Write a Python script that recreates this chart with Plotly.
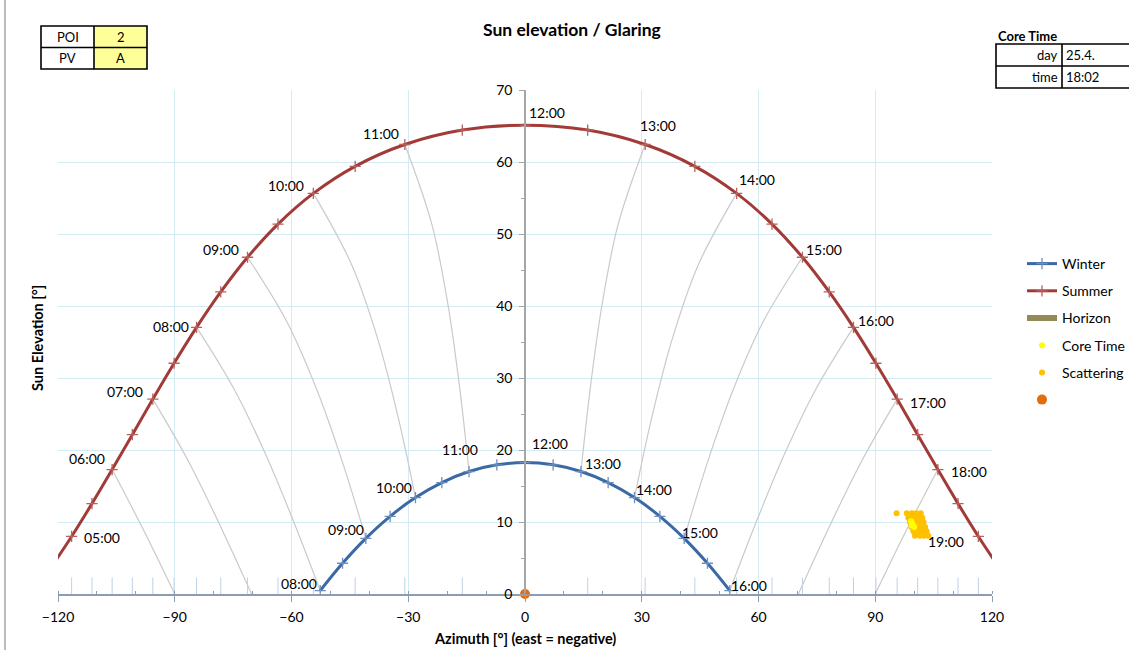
import plotly.graph_objects as go

# ---------------- DATA ----------------
summer_time = ["04:30", "05:00", "05:30", "06:00", "06:30", "07:00", "07:30", "08:00", "08:30",
               "09:00", "09:30", "10:00", "10:30", "11:00", "11:30", "12:00", "12:30", "13:00",
               "13:30", "14:00", "14:30", "15:00", "15:30", "16:00", "16:30", "17:00", "17:30",
               "18:00", "18:30", "19:00", "19:30"]
summer_az = [-121.86, -116.50, -111.27, -106.09, -100.90, -95.63, -90.17, -84.40, -78.18,
             -71.29, -63.47, -54.39, -43.64, -30.88, -16.11, 0.0, 16.11, 30.88,
             43.64, 54.39, 63.47, 71.29, 78.18, 84.40, 90.17, 95.63, 100.90,
             106.09, 111.27, 116.50, 121.86]
summer_el = [3.64, 7.99, 12.55, 17.28, 22.13, 27.07, 32.05, 37.03, 41.95,
             46.77, 51.38, 55.64, 59.40, 62.43, 64.44, 65.12, 64.44, 62.43,
             59.40, 55.64, 51.38, 46.77, 41.95, 37.03, 32.05, 27.07, 22.13,
             17.28, 12.55, 7.99, 3.64]

winter_time = ["08:00", "08:30", "09:00", "09:30", "10:00", "10:30", "11:00", "11:30", "12:00",
               "12:30", "13:00", "13:30", "14:00", "14:30", "15:00", "15:30", "16:00"]
winter_az = [-52.62, -46.88, -40.90, -34.65, -28.14, -21.37, -14.38, -7.23, 0.0,
             7.23, 14.38, 21.37, 28.14, 34.65, 40.90, 46.88, 52.62]
winter_el = [0.47, 4.27, 7.73, 10.79, 13.39, 15.48, 17.01, 17.94, 18.26,
             17.94, 17.01, 15.48, 13.39, 10.79, 7.73, 4.27, 0.47]

# hour lines (same clock time across the year, summer -> winter / horizon)
hourline_names = ["06:00", "07:00", "08:00", "09:00", "10:00", "11:00",
                  "13:00", "14:00", "15:00", "16:00", "17:00", "18:00"]
hourline_az = [
    [-106.09, -97.86, -90.0],
    [-95.63, -86.73, -78.69, -70.25],
    [-84.40, -74.80, -66.68, -59.44, -52.62],
    [-71.29, -61.13, -53.26, -46.72, -40.90],
    [-54.39, -44.51, -37.71, -32.51, -28.14],
    [-30.88, -23.93, -19.74, -16.76, -14.38],
    [30.88, 23.93, 19.74, 16.76, 14.38],
    [54.39, 44.51, 37.71, 32.51, 28.14],
    [71.29, 61.13, 53.26, 46.72, 40.90],
    [84.40, 74.80, 66.68, 59.44, 52.62],
    [95.63, 86.73, 78.69, 70.25],
    [106.09, 97.86, 90.0],
]
hourline_el = [
    [17.28, 8.72, 0.0],
    [27.07, 18.68, 9.91, 0.0],
    [37.03, 28.51, 19.43, 10.03, 0.47],
    [46.77, 37.75, 28.06, 18.00, 7.73],
    [55.64, 45.70, 35.18, 24.36, 13.39],
    [62.43, 51.33, 39.98, 28.53, 17.01],
    [62.43, 51.33, 39.98, 28.53, 17.01],
    [55.64, 45.70, 35.18, 24.36, 13.39],
    [46.77, 37.75, 28.06, 18.00, 7.73],
    [37.03, 28.51, 19.43, 10.03, 0.47],
    [27.07, 18.68, 9.91, 0.0],
    [17.28, 8.72, 0.0],
]

horizon_az = [-120.0, 120.0]
horizon_el = [-3.0, -3.0]

scatter_az = [95.5,
              98.1, 98.5, 98.9, 99.3, 99.8, 100.2,
              99.4, 99.8, 100.2, 100.6, 101.1, 101.5,
              100.5, 100.9, 101.3, 101.7, 102.1, 102.5,
              101.7, 102.1, 102.4, 102.8, 103.2, 103.6]
scatter_el = [11.2,
              11.2, 10.6, 10.0, 9.3, 8.7, 8.1,
              11.2, 10.6, 10.0, 9.3, 8.7, 8.1,
              11.2, 10.6, 10.0, 9.3, 8.7, 8.1,
              11.2, 10.6, 10.0, 9.3, 8.7, 8.1]

core_az = [99.2, 99.6, 100.0, 99.4]
core_el = [10.1, 9.7, 9.3, 9.5]

poi_az = [0.0]
poi_el = [0.0]

x_ticks = [-120, -90, -60, -30, 0, 30, 60, 90, 120]
y_ticks = [0, 10, 20, 30, 40, 50, 60, 70]

table_left = [["POI", "2"], ["PV", "A"]]
core_day = "25.4."
core_clock = "18:02"

# ---------------- STYLE ----------------
FONT = "Lato"
W, H = 1129, 650
ML, MR, MT, MB = 58, 137, 90, 56
PW, PH = W - ML - MR, H - MT - MB


def px(x):
    return (x - ML) / PW


def py(y):
    return (H - MB - y) / PH


summer_label_off = {"05:00": (30, 1), "06:00": (-25, -11), "07:00": (-28, -8), "08:00": (-26, -1),
                    "09:00": (-27, -8), "10:00": (-27, -8), "11:00": (-24, -11), "12:00": (22, -13),
                    "13:00": (13, -19), "14:00": (20, -14), "15:00": (22, -8), "16:00": (23, -7),
                    "17:00": (31, 3), "18:00": (31, 2), "19:00": (-32, 5)}
winter_label_off = {"08:00": (-21, -7), "09:00": (-20, -9), "10:00": (-21, -10), "11:00": (-9, -22),
                    "12:00": (25, -19), "13:00": (22, -8), "14:00": (19, -8), "15:00": (16, -6),
                    "16:00": (19, -5)}

WINTER = "#3A69A5"
SUMMER = "#A23B38"
GRID = "#D3ECF4"
BLACK = "#000000"

fig = go.Figure()

# hour lines
for az, el in zip(hourline_az, hourline_el):
    fig.add_trace(go.Scatter(x=az, y=el, mode="lines", line=dict(color="#CACACA", width=1.2, shape="spline"),
                             showlegend=False, hoverinfo="skip"))

# short vertical marks at the horizon (at summer azimuths)
tick_az = [a for a in summer_az if abs(a) <= 120]
fig.add_trace(go.Scatter(x=tick_az, y=[0] * len(tick_az),
                         mode="markers", marker=dict(size=1, opacity=0), cliponaxis=False,
                         error_y=dict(type="constant", value=2.3, thickness=1, width=0, color="#BFD0E6"),
                         showlegend=False, hoverinfo="skip"))

fig.add_trace(go.Scatter(x=winter_az, y=winter_el, name="Winter", legendgroup="w", legendrank=1,
                         mode="lines+markers", line=dict(color=WINTER, width=3, shape="spline"),
                         marker=dict(symbol="cross-thin", size=8, line=dict(color="#6C8FBF", width=1.3))))
fig.add_trace(go.Scatter(x=summer_az, y=summer_el, name="Summer", legendgroup="s", legendrank=2,
                         mode="lines+markers", line=dict(color=SUMMER, width=3, shape="spline"),
                         marker=dict(symbol="cross-thin", size=8, line=dict(color="#B8605C", width=1.3))))
fig.add_trace(go.Scatter(x=horizon_az, y=horizon_el, name="Horizon", legendgroup="h", legendrank=3,
                         mode="lines", line=dict(color="#948A54", width=6)))
fig.add_trace(go.Scatter(x=scatter_az, y=scatter_el, name="Scattering", legendgroup="sc", legendrank=5,
                         mode="markers", marker=dict(color="#FFC000", size=6)))
fig.add_trace(go.Scatter(x=core_az, y=core_el, name="Core Time", legendgroup="c", legendrank=4,
                         mode="markers", marker=dict(color="#FFFF00", size=6)))
fig.add_trace(go.Scatter(x=poi_az, y=poi_el, name=" ", legendgroup="p", legendrank=6, mode="markers",
                         cliponaxis=False, marker=dict(color="#E46C0A", size=10)))

annotations = []
for t, a, e in zip(summer_time, summer_az, summer_el):
    if t in summer_label_off:
        dx, dy = summer_label_off[t]
        annotations.append(dict(x=a, y=e, xref="x", yref="y", text=t, showarrow=False, xshift=dx, yshift=-dy,
                                xanchor="center", yanchor="middle", font=dict(size=14, color=BLACK)))
for t, a, e in zip(winter_time, winter_az, winter_el):
    if t in winter_label_off:
        dx, dy = winter_label_off[t]
        annotations.append(dict(x=a, y=e, xref="x", yref="y", text=t, showarrow=False, xshift=dx, yshift=-dy,
                                xanchor="center", yanchor="middle", font=dict(size=14, color=BLACK)))


def paper_text(x, y, text, size=13, xanchor="center", angle=0):
    return dict(x=px(x), y=py(y), xref="paper", yref="paper", text=text, showarrow=False,
                xanchor=xanchor, yanchor="middle", textangle=angle, font=dict(size=size, color=BLACK))


# titles
annotations.append(paper_text(572, 30, "<b>Sun elevation / Glaring</b>", size=17.5))
annotations.append(paper_text(525, 638, "<b>Azimuth [°] (east = negative)</b>", size=14.5))
annotations.append(paper_text(37, 338, "<b>Sun Elevation [°]</b>", size=14.5, angle=-90))

# tables
shapes = []
shapes.append(dict(type="line", xref="paper", yref="paper", x0=px(5), x1=px(5), y0=py(-5), y1=py(660),
                   line=dict(color="#A6A6A6", width=1.5)))
shapes.append(dict(type="rect", xref="paper", yref="paper", x0=px(94), x1=px(147), y0=py(26), y1=py(69),
                   fillcolor="#FFFF99", line=dict(width=0)))
shapes.append(dict(type="rect", xref="paper", yref="paper", x0=px(41), x1=px(147), y0=py(26), y1=py(69),
                   line=dict(color=BLACK, width=1.6)))
shapes.append(dict(type="line", xref="paper", yref="paper", x0=px(94), x1=px(94), y0=py(26), y1=py(69),
                   line=dict(color=BLACK, width=1.6)))
shapes.append(dict(type="line", xref="paper", yref="paper", x0=px(41), x1=px(147), y0=py(47.5), y1=py(47.5),
                   line=dict(color=BLACK, width=1.6)))
for r, row in enumerate(table_left):
    yc = 37 + r * 21
    annotations.append(paper_text(67.5, yc, row[0]))
    annotations.append(paper_text(120.5, yc, row[1]))

annotations.append(paper_text(996, 36, "<b>Core Time</b>", xanchor="left"))
shapes.append(dict(type="rect", xref="paper", yref="paper", x0=px(996), x1=px(1140), y0=py(44), y1=py(88),
                   line=dict(color=BLACK, width=1.6)))
shapes.append(dict(type="line", xref="paper", yref="paper", x0=px(1062), x1=px(1062), y0=py(44), y1=py(88),
                   line=dict(color=BLACK, width=1.6)))
shapes.append(dict(type="line", xref="paper", yref="paper", x0=px(996), x1=px(1140), y0=py(66), y1=py(66),
                   line=dict(color=BLACK, width=1.6)))
for lab, val, yc in [("day", core_day, 55), ("time", core_clock, 77)]:
    annotations.append(paper_text(1060, yc, lab, xanchor="right"))
    annotations.append(paper_text(1064, yc, val, xanchor="left"))

fig.update_layout(
    width=W, height=H,
    margin=dict(l=ML, r=MR, t=MT, b=MB, autoexpand=False),
    paper_bgcolor="white", plot_bgcolor="white",
    font=dict(family=FONT, size=14, color=BLACK),
    xaxis=dict(range=[-120, 120], tickvals=x_ticks, showgrid=True, gridcolor=GRID, gridwidth=1.3,
               zeroline=False, showline=True, linecolor="#8C9CB3", linewidth=1.5,
               ticks="outside", ticklen=6, tickcolor="#8C9CB3", tickwidth=1.2,
               minor=dict(dtick=10, ticks="inside", ticklen=3, tickcolor="#8C9CB3", showgrid=False),
               tickfont=dict(size=14), ticklabelstandoff=3, fixedrange=True, automargin=False),
    yaxis=dict(range=[0, 70], tickvals=y_ticks, showgrid=True, gridcolor=GRID, gridwidth=1.3,
               zeroline=False, showline=True, linecolor="#A6A6A6", linewidth=1.5,
               anchor="free", position=0.5,
               ticks="outside", ticklen=5, tickcolor="#A6A6A6", tickwidth=1.2,
               minor=dict(dtick=5, ticks="outside", ticklen=3, tickcolor="#A6A6A6", showgrid=False),
               tickfont=dict(size=14), ticklabelstandoff=4, fixedrange=True, automargin=False),
    legend=dict(x=px(1022), y=py(248), xanchor="left", yanchor="top", font=dict(size=14),
                bgcolor="rgba(0,0,0,0)", tracegroupgap=6),
    annotations=annotations,
    shapes=shapes,
    showlegend=True,
)

fig.write_html("out.html")
